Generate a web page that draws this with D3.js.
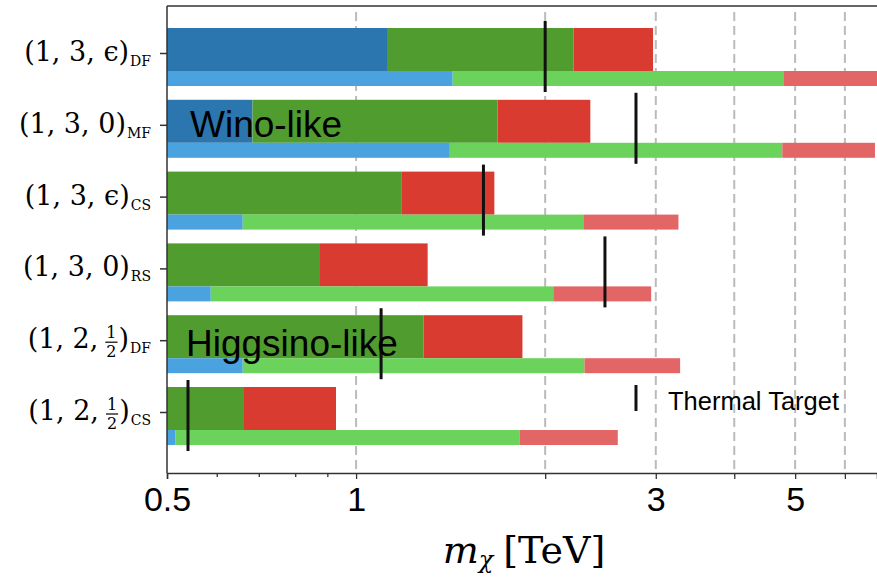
<!DOCTYPE html>
<html>
<head>
<meta charset="utf-8">
<script src="https://cdn.jsdelivr.net/npm/d3@7"></script>
<style>
  body { margin: 0; background: #fff; }
  svg { display: block; }
</style>
</head>
<body>
<svg id="chart"></svg>
<script>
const width = 877;
const height = 577;

// DATA
const categories = ["1,3,e,DF", "1,3,0,MF", "1,3,e,CS", "1,3,0,RS", "1,2,h,DF", "1,2,h,CS"];
const labelMain = ["(1, 3, ϵ", "(1, 3, 0", "(1, 3, ϵ", "(1, 3, 0", "(1, 2,", "(1, 2,"];
const labelFrac = [false, false, false, false, true, true];
const labelSub = ["DF", "MF", "CS", "RS", "DF", "CS"];

// upper (thick) bar, stacked from 0.5 TeV
const darkBlue  = [1.12, 0.684, null, null, null, null];
const darkGreen = [2.22, 1.68, 1.18, 0.876, 1.28, 0.663];
const darkRed   = [2.97, 2.36, 1.66, 1.30, 1.84, 0.929];
// lower (thin) bar
const lightBlue  = [1.425, 1.41, 0.66, 0.587, 0.66, 0.516];
const lightGreen = [4.80, 4.77, 2.30, 2.06, 2.31, 1.82];
const lightRed   = [7.0, 6.7, 3.26, 2.95, 3.28, 2.61];
// thermal target mass
const thermal = [2.0, 2.79, 1.595, 2.49, 1.096, 0.54];

const gridValues = [1, 2, 3, 4, 5, 6];
const majorTicks = [0.5, 1, 2, 3, 4, 5, 6];
const tickLabels = { 0.5: "0.5", 1: "1", 3: "3", 5: "5" };
const minorTicks = [0.6, 0.7, 0.8, 0.9];

const plotLeft = 167, plotRight = 877, plotTop = 6, plotBottom = 473;

// SCALES
const x = d3.scaleLog()
  .domain([0.5, 6.75])
  .range([plotLeft, plotRight]);

const y = d3.scalePoint()
  .domain(categories)
  .range([53, 412]);

const svg = d3.select("#chart")
  .attr("width", width)
  .attr("height", height)
  .style("font-family", "'Liberation Sans', Arial, sans-serif");

svg.append("defs").append("clipPath")
    .attr("id", "plotclip")
  .append("rect")
    .attr("x", plotLeft)
    .attr("y", plotTop)
    .attr("width", plotRight - plotLeft)
    .attr("height", plotBottom - plotTop);

const plot = svg.append("g").attr("clip-path", "url(#plotclip)");

// GRIDLINES
plot.selectAll(".grid")
  .data(gridValues)
  .enter()
  .append("line")
    .attr("x1", d => x(d))
    .attr("x2", d => x(d))
    .attr("y1", 12)
    .attr("y2", plotBottom)
    .attr("stroke", "#bbbbbb")
    .attr("stroke-width", 2)
    .attr("stroke-dasharray", "9,5");

// BARS
function segments(series, colors, y0, h) {
  const rows = categories.map((c, i) => {
    let start = 0.5;
    const out = [];
    series.forEach((s, k) => {
      const v = s[i];
      if (v == null) return;
      out.push({ cat: c, from: start, to: v, color: colors[k] });
      start = v;
    });
    return out;
  }).flat();

  plot.selectAll(null)
    .data(rows)
    .enter()
    .append("rect")
      .attr("x", d => x(d.from))
      .attr("y", d => y(d.cat) + y0)
      .attr("width", d => x(d.to) - x(d.from))
      .attr("height", h)
      .attr("fill", d => d.color);
}

segments([darkBlue, darkGreen, darkRed], ["#2c76b0", "#519c2f", "#d93b31"], -25, 43);
segments([lightBlue, lightGreen, lightRed], ["#4aa3de", "#6bd25b", "#e36666"], 18, 15);

// THERMAL TARGET LINES
plot.selectAll(".thermal")
  .data(thermal)
  .enter()
  .append("line")
    .attr("x1", d => x(d))
    .attr("x2", d => x(d))
    .attr("y1", (d, i) => y(categories[i]) - 32)
    .attr("y2", (d, i) => y(categories[i]) + 39)
    .attr("stroke", "#111")
    .attr("stroke-width", 3);

// TEXT ANNOTATIONS
svg.append("text")
  .attr("x", 190)
  .attr("y", 137)
  .style("font-size", "37px")
  .attr("fill", "#000")
  .text("Wino-like");

svg.append("text")
  .attr("x", 186)
  .attr("y", 356)
  .style("font-size", "37px")
  .attr("fill", "#000")
  .text("Higgsino-like");

// legend
svg.append("line")
  .attr("x1", x(2.79)).attr("x2", x(2.79))
  .attr("y1", 385).attr("y2", 411)
  .attr("stroke", "#111")
  .attr("stroke-width", 3);

svg.append("text")
  .attr("x", 668)
  .attr("y", 410)
  .style("font-size", "25.5px")
  .text("Thermal Target");

// SPINES
svg.append("line")
  .attr("x1", plotLeft).attr("x2", plotRight)
  .attr("y1", plotTop).attr("y2", plotTop)
  .attr("stroke", "#333").attr("stroke-width", 1.5);
svg.append("line")
  .attr("x1", plotLeft).attr("x2", plotLeft)
  .attr("y1", plotTop).attr("y2", plotBottom)
  .attr("stroke", "#333").attr("stroke-width", 1.5);

// X AXIS
const xAxis = d3.axisBottom(x)
  .tickValues(majorTicks)
  .tickFormat(d => tickLabels[d] || "")
  .tickSize(6)
  .tickPadding(6);

const gx = svg.append("g")
  .attr("transform", `translate(0, ${plotBottom})`)
  .call(xAxis);
gx.select(".domain").attr("stroke", "#333").attr("stroke-width", 1.5);
gx.selectAll(".tick line").attr("stroke", "#333").attr("stroke-width", 1.3);
gx.selectAll(".tick text")
  .style("font-size", "34px")
  .style("font-family", "'Liberation Sans', Arial, sans-serif")
  .attr("fill", "#000")
  .attr("dy", "0.75em");

const xMinor = d3.axisBottom(x)
  .tickValues(minorTicks)
  .tickFormat("")
  .tickSize(4);
const gm = svg.append("g")
  .attr("transform", `translate(0, ${plotBottom})`)
  .call(xMinor);
gm.select(".domain").remove();
gm.selectAll(".tick line").attr("stroke", "#333").attr("stroke-width", 1.3);

// x label
const xl = svg.append("text")
  .attr("x", (plotLeft + plotRight) / 2 + 2)
  .attr("y", 563)
  .attr("text-anchor", "middle")
  .style("font-family", "'DejaVu Serif', serif")
  .style("font-size", "38px");
xl.append("tspan").style("font-style", "italic").text("m");
xl.append("tspan").style("font-style", "italic").style("font-size", "24px").attr("dy", 5).text("χ");
xl.append("tspan").attr("dy", -5).attr("dx", 10).text("[TeV]");

// Y AXIS
const yAxis = d3.axisLeft(y)
  .tickFormat("")
  .tickSize(7);
const gy = svg.append("g")
  .attr("transform", `translate(${plotLeft}, 0)`)
  .call(yAxis);
gy.select(".domain").remove();
gy.selectAll(".tick line").attr("stroke", "#333").attr("stroke-width", 1.5);

// y labels built piece by piece, then right-aligned
categories.forEach((c, i) => {
  const g = svg.append("g");
  let cx = 0;
  const put = (txt, size, dy) => g.append("text")
      .attr("x", cx)
      .attr("y", dy)
      .style("font-family", "'DejaVu Serif', serif")
      .style("font-size", size + "px")
      .text(txt);
  let t = put(labelMain[i], 27, 0);
  cx += t.node().getComputedTextLength();
  if (labelFrac[i]) {
    cx += 8;
    const n = put("1", 16, -10);
    const w = n.node().getComputedTextLength();
    put("2", 16, 9);
    g.append("line")
      .attr("x1", cx - 1).attr("x2", cx + w + 1)
      .attr("y1", -6).attr("y2", -6)
      .attr("stroke", "#000").attr("stroke-width", 1.2);
    cx += w + 2;
  }
  t = put(")", 27, 0);
  cx += t.node().getComputedTextLength() + 1;
  t = put(labelSub[i], 14, 5);
  cx += t.node().getComputedTextLength();
  g.attr("transform", `translate(${151 - cx}, ${y(c) + 8})`);
});
</script>
</body>
</html>
